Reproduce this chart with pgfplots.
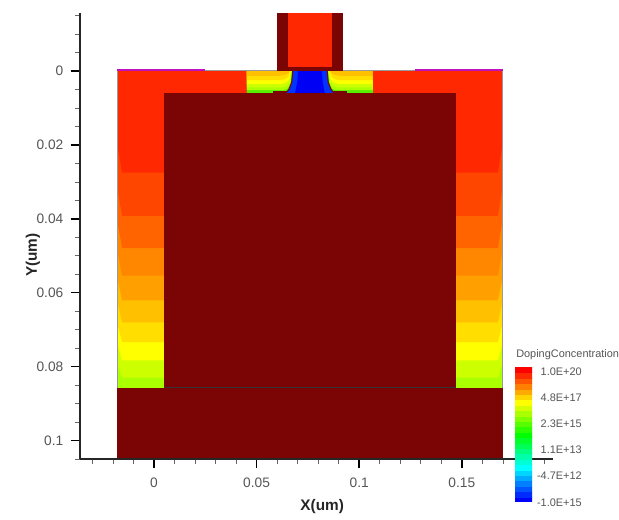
\documentclass[border=0pt]{standalone}
\usepackage{fontspec}
\setmainfont{Liberation Sans}
\usepackage{pgfplots}
\pgfplotsset{compat=1.18}
\definecolor{dk}{HTML}{7B0404}
\definecolor{txt}{HTML}{555555}
\definecolor{pur}{HTML}{C010C0}
\definecolor{r1}{HTML}{FF2800}
\definecolor{r2}{HTML}{FF4600}
\definecolor{r3}{HTML}{FF6400}
\definecolor{r4}{HTML}{FF8700}
\definecolor{r5}{HTML}{FFA000}
\definecolor{r6}{HTML}{FFC000}
\definecolor{r7}{HTML}{FFDE00}
\definecolor{r8}{HTML}{FFFF00}
\definecolor{r9}{HTML}{CCFF00}
\definecolor{r10}{HTML}{AAFF00}
\definecolor{gn}{HTML}{55F000}
\definecolor{bl1}{HTML}{0033FF}
\definecolor{bl2}{HTML}{0000F5}
\definecolor{cb0}{HTML}{0000FF}\definecolor{cb1}{HTML}{002BFF}\definecolor{cb2}{HTML}{0055FF}
\definecolor{cb3}{HTML}{0080FF}\definecolor{cb4}{HTML}{00AAFF}\definecolor{cb5}{HTML}{00D5FF}
\definecolor{cb6}{HTML}{00FFFF}\definecolor{cb7}{HTML}{00FFD5}\definecolor{cb8}{HTML}{00FFAA}
\definecolor{cb9}{HTML}{00FF80}\definecolor{cb10}{HTML}{00FF55}\definecolor{cb11}{HTML}{00FF2B}
\definecolor{cb12}{HTML}{00FF00}\definecolor{cb13}{HTML}{2BFF00}\definecolor{cb14}{HTML}{55FF00}
\definecolor{cb15}{HTML}{80FF00}\definecolor{cb16}{HTML}{AAFF00}\definecolor{cb17}{HTML}{D5FF00}
\definecolor{cb18}{HTML}{FFFF00}\definecolor{cb19}{HTML}{FFD500}\definecolor{cb20}{HTML}{FFAA00}
\definecolor{cb21}{HTML}{FF8000}\definecolor{cb22}{HTML}{FF5500}\definecolor{cb23}{HTML}{FF2B00}
\definecolor{cb24}{HTML}{FF0000}
% a filled region and its mirror image about x = 0.076
\newcommand\pair[2]{%
  \addplot[fill=#1,draw=none] coordinates {#2} -- cycle;
  \addplot[fill=#1,draw=none,x filter/.expression={0.152-x}] coordinates {#2} -- cycle;
}
\newcommand\cbs[2]{\addplot[fill=cb#1,draw=cb#1,line width=0.1pt] coordinates {(0,#1)(1,#1)(1,#2)(0,#2)} -- cycle;}
\begin{document}
\begin{tikzpicture}
\useasboundingbox (-60pt,-45.75pt) rectangle (404.25pt,344.25pt);
\begin{axis}[
  at={(0pt,0pt)},anchor=south west,
  scale only axis,width=354.75pt,height=334.5pt,
  xmin=-0.03606,xmax=0.19444,ymin=-0.0157,ymax=0.105,
  y dir=reverse,
  axis x line*=bottom,axis y line*=left,
  axis on top,clip=false,no marks,
  axis line style={black!85,line width=1.1pt},
  tick align=outside,
  major tick length=7pt,minor tick length=3.75pt,
  major tick style={black,line width=1.1pt},
  minor tick style={black!60,line width=0.5pt},
  xtick={0,0.05,0.1,0.15},xticklabels={0,0.05,0.1,0.15},
  ytick={0,0.02,0.04,0.06,0.08,0.1},yticklabels={0,0.02,0.04,0.06,0.08,0.1},
  minor xtick={-0.03,-0.02,-0.01,0.01,0.02,0.03,0.04,0.06,0.07,0.08,0.09,0.11,0.12,0.13,0.14,0.16,0.17,0.18,0.19},
  minor ytick={-0.015,-0.01,-0.005,0.005,0.01,0.015,0.025,0.03,0.035,0.045,0.05,0.055,0.065,0.07,0.075,0.085,0.09,0.095,0.105},
  tick label style={font=\fontsize{10.3pt}{12pt}\selectfont,text=txt},
  xticklabel style={yshift=-3.5pt},
  yticklabel style={xshift=-2pt},
  xlabel={X(um)},ylabel={Y(um)},
  every axis x label/.style={at={(rel axis cs:0.512,-0.1076)},anchor=center,font=\fontsize{11.5pt}{13pt}\selectfont\bfseries,text=black!85},
  every axis y label/.style={at={(rel axis cs:-0.0994,0.457)},anchor=center,rotate=90,font=\fontsize{11.5pt}{13pt}\selectfont\bfseries,text=black!85},
]
% side bands, painted from the bottom upwards
\pair{r10}{(-0.0180,0)(0.0049,0)(0.0049,0.0857)(-0.0180,0.0857)}
\pair{r9}{(-0.0180,0)(0.0049,0)(0.0049,0.0830)(-0.0156,0.0830)(-0.0180,0.0790)}
\pair{r8}{(-0.0180,0)(0.0049,0)(0.0049,0.0783)(-0.0156,0.0783)(-0.0180,0.0735)}
\pair{r7}{(-0.0180,0)(0.0049,0)(0.0049,0.0734)(-0.0156,0.0734)(-0.0180,0.0680)}
\pair{r6}{(-0.0180,0)(0.0049,0)(0.0049,0.0680)(-0.0156,0.0680)(-0.0180,0.0620)}
\pair{r5}{(-0.0180,0)(0.0049,0)(0.0049,0.0621)(-0.0156,0.0621)(-0.0180,0.0555)}
\pair{r4}{(-0.0180,0)(0.0049,0)(0.0049,0.0554)(-0.0156,0.0554)(-0.0180,0.0480)}
\pair{r3}{(-0.0180,0)(0.0049,0)(0.0049,0.0479)(-0.0156,0.0479)(-0.0180,0.0400)}
\pair{r2}{(-0.0180,0)(0.0049,0)(0.0049,0.0392)(-0.0156,0.0392)(-0.0180,0.0310)}
\pair{r1}{(-0.0180,0)(0.0049,0)(0.0049,0.0275)(-0.0156,0.0275)(-0.0180,0.0195)}
\pair{r1}{(-0.0180,0)(0.0453,0)(0.0453,0.0059)(-0.0180,0.0059)}
% channel-side bands
\pair{gn}{(0.0453,0)(0.0676,0)(0.0671,0.0030)(0.0659,0.0048)(0.0646,0.0057)(0.0630,0.0059)(0.0453,0.0059)}
\pair{r10}{(0.0453,0)(0.0672,0)(0.0665,0.0035)(0.0650,0.0048)(0.0630,0.0052)(0.0453,0.0052)}
\pair{r9}{(0.0453,0)(0.0670,0)(0.0662,0.0030)(0.0648,0.0040)(0.0625,0.0044)(0.0453,0.0044)}
\pair{r8}{(0.0453,0)(0.0668,0)(0.0660,0.0022)(0.0645,0.0031)(0.0620,0.0035)(0.0453,0.0035)}
\pair{r7}{(0.0453,0)(0.0665,0)(0.0656,0.0015)(0.0640,0.0022)(0.0615,0.0025)(0.0453,0.0025)}
\pair{r6}{(0.0453,0)(0.0662,0)(0.0652,0.0007)(0.0635,0.0011)(0.0610,0.0013)(0.0453,0.0013)}
% body
\addplot[fill=dk,draw=none] coordinates {(0.0049,0.0059)(0.1471,0.0059)(0.1471,0.0857)(0.0049,0.0857)} -- cycle;
\addplot[fill=dk,draw=none] coordinates {(-0.0180,0.0857)(0.1700,0.0857)(0.1700,0.1050)(-0.0180,0.1050)} -- cycle;
\addplot[fill=dk,draw=none] coordinates {(0.0580,0.0055)(0.0940,0.0055)(0.0940,0.0060)(0.0580,0.0060)} -- cycle;
\addplot[black!80,line width=0.5pt] coordinates {(0.0049,0.0857)(0.1471,0.0857)};
% channel
\addplot[fill=bl1,draw=none] coordinates {(0.0676,0)(0.0671,0.0030)(0.0659,0.0048)(0.0647,0.0057)(0.0629,0.0059)(0.0891,0.0059)(0.0873,0.0057)(0.0861,0.0048)(0.0849,0.0030)(0.0844,0)} -- cycle;
\addplot[fill=bl2,draw=none] coordinates {(0.0702,0)(0.0698,0.0030)(0.0688,0.0059)(0.0832,0.0059)(0.0822,0.0030)(0.0818,0)} -- cycle;
\addplot[dk,line width=0.8pt] coordinates {(0.0676,0)(0.0671,0.0030)(0.0659,0.0048)(0.0647,0.0057)(0.0629,0.0059)};
\addplot[dk,line width=0.8pt] coordinates {(0.0844,0)(0.0849,0.0030)(0.0861,0.0048)(0.0873,0.0057)(0.0891,0.0059)};
% top edge
\addplot[black!40,line width=0.7pt] coordinates {(0.0249,-0.0002)(0.1272,-0.0002)};
\addplot[black!40,line width=0.6pt] coordinates {(-0.0180,0)(-0.0180,0.0857)};
\addplot[black!40,line width=0.6pt] coordinates {(0.1700,0)(0.1700,0.0857)};
\addplot[pur,line width=1.2pt] coordinates {(-0.0180,-0.0002)(0.0249,-0.0002)};
\addplot[pur,line width=1.2pt] coordinates {(0.1272,-0.0002)(0.1700,-0.0002)};
% gate
\addplot[fill=dk,draw=none] coordinates {(0.0599,-0.0157)(0.0921,-0.0157)(0.0921,0)(0.0599,0)} -- cycle;
\addplot[fill=r1,draw=none] coordinates {(0.0653,-0.0157)(0.0867,-0.0157)(0.0867,-0.0011)(0.0653,-0.0011)} -- cycle;
\end{axis}
\begin{axis}[
  at={(326.25pt,-32.25pt)},anchor=south west,
  scale only axis,width=12.75pt,height=101.25pt,
  xmin=0,xmax=1,ymin=0,ymax=25,hide axis,no marks,
]
\cbs{0}{1}\cbs{1}{2}\cbs{2}{3}\cbs{3}{4}\cbs{4}{5}
\cbs{5}{6}\cbs{6}{7}\cbs{7}{8}\cbs{8}{9}\cbs{9}{10}
\cbs{10}{11}\cbs{11}{12}\cbs{12}{13}\cbs{13}{14}\cbs{14}{15}
\cbs{15}{16}\cbs{16}{17}\cbs{17}{18}\cbs{18}{19}\cbs{19}{20}
\cbs{20}{21}\cbs{21}{22}\cbs{22}{23}\cbs{23}{24}\cbs{24}{25}
\end{axis}
\begin{scope}[every node/.style={inner sep=0pt,text=txt,font=\fontsize{8.2pt}{10pt}\selectfont}]
\node[anchor=west] at (327pt,78pt) {DopingConcentration};
\node[anchor=east] at (376.5pt,65.25pt) {1.0E+20};
\node[anchor=east] at (376.5pt,45.75pt) {4.8E+17};
\node[anchor=east] at (376.5pt,26.25pt) {2.3E+15};
\node[anchor=east] at (376.5pt,6.75pt) {1.1E+13};
\node[anchor=east] at (376.5pt,-12.75pt) {-4.7E+12};
\node[anchor=east] at (376.5pt,-33pt) {-1.0E+15};
\end{scope}
\end{tikzpicture}
\end{document}
